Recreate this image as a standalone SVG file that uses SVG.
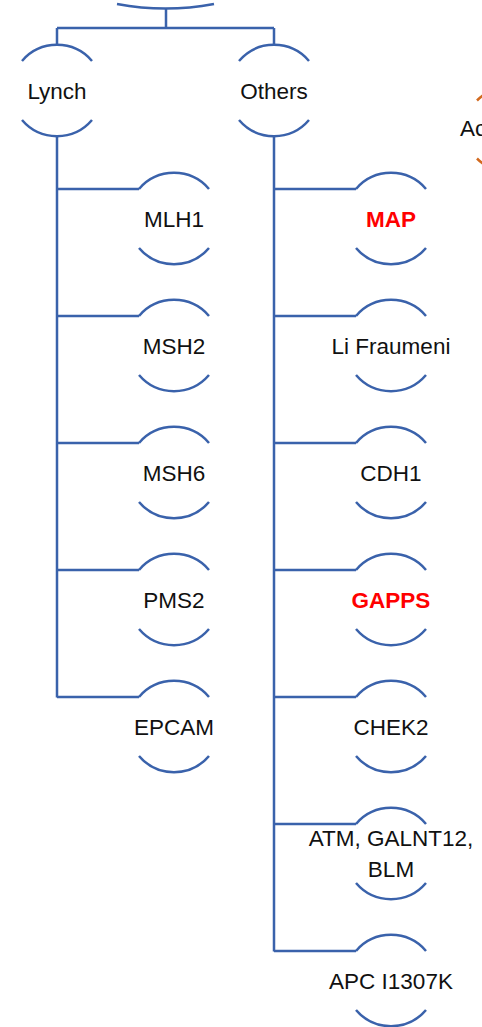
<svg xmlns="http://www.w3.org/2000/svg" width="482" height="1027" viewBox="0 0 482 1027">
  <style>
    .arc { fill: none; stroke: #3a62ab; stroke-width: 2.5; }
    .arc-o { fill: none; stroke: #d2691e; stroke-width: 2.5; }
    .wire { fill: none; stroke: #3a62ab; stroke-width: 2.5; }
    .lbl { font-family: "Liberation Sans", Arial, sans-serif; font-size: 22.5px; fill: #111; text-anchor: middle; }
    .hot { fill: #ff0000; font-weight: bold; }
  </style>
  <defs>
    <!-- node outline: top and bottom caps of a circle r=46, centred at 0,0 -->
    <g id="caps">
      <path class="arc" d="M-35 -29.5 A46 46 0 0 1 35 -29.5"/>
      <path class="arc" d="M-35 29.5 A46 46 0 0 0 35 29.5"/>
    </g>
  </defs>

  <g id="connectors">
    <path class="wire" d="M166 8.5 V28 M57 28 H274 M57 28 V44.5 M274 28 V44.5"/>
    <!-- Lynch branch -->
    <path class="wire" d="M57 136.5 V697.5 M57 189 H139 M57 316 H139 M57 443 H139 M57 570 H139 M57 697 H139"/>
    <!-- Others branch -->
    <path class="wire" d="M274 136.5 V951.5 M274 189 H356 M274 316 H356 M274 443 H356 M274 570 H356 M274 697 H356 M274 824 H356 M274 951 H356"/>
  </g>

  <g id="root">
    <path class="arc" d="M117 4 A263 263 0 0 0 214 4"/>
  </g>

  <g id="lynch"><use href="#caps" x="57" y="90.5"/><text class="lbl" x="57" y="99">Lynch</text></g>
  <g id="others"><use href="#caps" x="274" y="90.5"/><text class="lbl" x="274" y="99">Others</text></g>

  <g id="side-node">
    <path class="arc-o" d="M477 100.5 A46 46 0 0 1 485 94"/>
    <path class="arc-o" d="M477 158.5 A46 46 0 0 0 485 165"/>
    <text class="lbl" x="460" y="136" style="text-anchor:start">Ac</text>
  </g>

  <g id="mlh1"><use href="#caps" x="174" y="218.5"/><text class="lbl" x="174" y="226.5">MLH1</text></g>
  <g id="msh2"><use href="#caps" x="174" y="345.5"/><text class="lbl" x="174" y="353.5">MSH2</text></g>
  <g id="msh6"><use href="#caps" x="174" y="472.5"/><text class="lbl" x="174" y="480.5">MSH6</text></g>
  <g id="pms2"><use href="#caps" x="174" y="599.5"/><text class="lbl" x="174" y="607.5">PMS2</text></g>
  <g id="epcam"><use href="#caps" x="174" y="726.5"/><text class="lbl" x="174" y="734.5">EPCAM</text></g>

  <g id="map"><use href="#caps" x="391" y="218.5"/><text class="lbl hot" x="391" y="226.5">MAP</text></g>
  <g id="li-fraumeni"><use href="#caps" x="391" y="345.5"/><text class="lbl" x="391" y="353.5">Li Fraumeni</text></g>
  <g id="cdh1"><use href="#caps" x="391" y="472.5"/><text class="lbl" x="391" y="480.5">CDH1</text></g>
  <g id="gapps"><use href="#caps" x="391" y="599.5"/><text class="lbl hot" x="391" y="607.5">GAPPS</text></g>
  <g id="chek2"><use href="#caps" x="391" y="726.5"/><text class="lbl" x="391" y="734.5">CHEK2</text></g>
  <g id="atm-galnt12-blm"><use href="#caps" x="391" y="853.5"/>
    <text class="lbl" x="391" y="846">ATM, GALNT12,</text>
    <text class="lbl" x="391" y="877">BLM</text>
  </g>
  <g id="apc-i1307k"><use href="#caps" x="391" y="980.5"/><text class="lbl" x="391" y="988.5">APC I1307K</text></g>
</svg>
